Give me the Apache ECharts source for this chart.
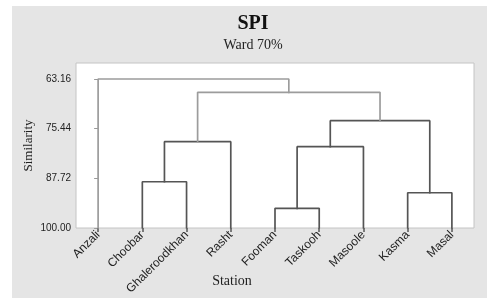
<!DOCTYPE html>
<html>
<head>
<meta charset="utf-8">
<script src="https://cdn.jsdelivr.net/npm/echarts@6/dist/echarts.min.js"></script>
<style>
html,body{margin:0;padding:0;background:#fff;}
#bg{position:absolute;left:12px;top:6px;right:0;bottom:0;background:#e5e5e5;}
#chart{position:absolute;left:0;top:0;width:487px;height:298px;}
</style>
</head>
<body>
<div id="bg"></div>
<div id="chart"></div>
<script>
// Leaves (stations) in dendrogram order
var stations = ['Anzali','Choobar','Ghaleroodkhan','Rasht','Fooman','Taskooh','Masoole','Kasma','Masal'];
// Merges: clusters 0-8 are leaves; merge k creates cluster 9+k
var mergeA = [1, 9, 4, 11, 7, 12, 10, 0];
var mergeB = [2, 3, 5, 6, 8, 13, 14, 15];
var mergeSimilarity = [88.56, 78.66, 95.14, 79.90, 91.28, 73.47, 66.45, 63.16];
var yTicks = [63.16, 75.44, 87.72, 100.00];
var leafSimilarity = 100;
var cutLevel = 70;

var pos = [], hgt = [];
for (var i = 0; i < stations.length; i++) { pos.push(i); hgt.push(leafSimilarity); }
var series = [];
for (var k = 0; k < mergeA.length; k++) {
  var a = mergeA[k], b = mergeB[k], h = mergeSimilarity[k];
  series.push({
    type: 'line', symbol: 'none', silent: true, animation: false,
    lineStyle: { width: 1.7, color: h < cutLevel ? '#9c9c9c' : '#555555', cap: 'square' },
    data: [[pos[a], hgt[a]], [pos[a], h], [pos[b], h], [pos[b], hgt[b]]]
  });
  pos.push((pos[a] + pos[b]) / 2);
  hgt.push(h);
}
var xIdx = stations.map(function (s, i) { return i; });

var chart = echarts.init(document.getElementById('chart'), null, { renderer: 'canvas' });
chart.setOption({
  animation: false,
  title: {
    text: 'SPI', subtext: 'Ward 70%',
    left: 248, top: 9, textAlign: 'center', itemGap: 4,
    textStyle: { fontFamily: 'Liberation Serif', fontWeight: 'bold', fontSize: 20, color: '#111' },
    subtextStyle: { fontFamily: 'Liberation Serif', fontSize: 14, color: '#222' }
  },
  grid: {
    left: 76, top: 63, width: 398, height: 165,
    outerBoundsMode: 'none', containLabel: false,
    show: true, backgroundColor: '#ffffff', borderColor: '#c4c4c4', borderWidth: 1
  },
  xAxis: {
    type: 'value', min: -0.5, max: 8.5,
    name: 'Station', nameLocation: 'middle', nameGap: 46, nameMoveOverlap: false,
    nameTextStyle: { fontFamily: 'Liberation Serif', fontSize: 14, color: '#222', padding: [0, 86, 0, 0] },
    axisLine: { show: false },
    splitLine: { show: false },
    axisTick: { show: true, customValues: xIdx, length: 4, lineStyle: { color: '#555', width: 1.5 } },
    axisLabel: {
      customValues: xIdx, rotate: 45, margin: 5,
      fontFamily: 'Liberation Sans', fontSize: 12, color: '#222',
      formatter: function (v) { return stations[Math.round(v)]; }
    }
  },
  yAxis: {
    type: 'value', inverse: true, min: 59.2, max: 100,
    name: 'Similarity', nameLocation: 'middle', nameGap: 41, nameMoveOverlap: false,
    nameTextStyle: { fontFamily: 'Liberation Serif', fontSize: 13, color: '#222' },
    axisLine: { show: false },
    splitLine: { show: false },
    axisTick: { show: true, customValues: yTicks, length: 4, lineStyle: { color: '#999' } },
    axisLabel: {
      customValues: yTicks, margin: 5,
      fontFamily: 'Liberation Sans', fontSize: 10, color: '#222',
      formatter: function (v) { return v.toFixed(2); }
    }
  },
  series: series
});
</script>
</body>
</html>
